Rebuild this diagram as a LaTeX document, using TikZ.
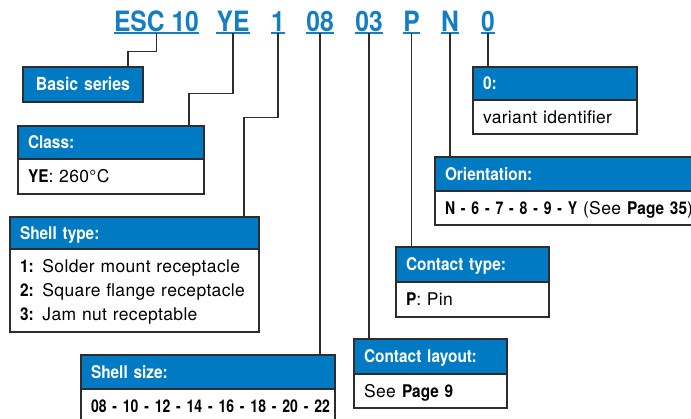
\documentclass[tikz,border=0pt]{standalone}
\usepackage{fontspec}
\setmainfont{TeX Gyre Heros}[UprightFeatures={LetterSpace=2}, BoldFeatures={FakeStretch=0.88}]
\newfontfamily\numbf{TeX Gyre Heros}[FakeStretch=0.8]
\usetikzlibrary{positioning}

\definecolor{hdrblue}{RGB}{0,122,194}
\definecolor{codeblue}{RGB}{20,125,196}
\definecolor{edgegray}{RGB}{45,45,45}

\begin{document}
\begin{tikzpicture}[
    x=1pt, y=-1pt,
    code/.style={font=\fontsize{28}{30}\selectfont\bfseries, text=codeblue, inner xsep=0pt, inner ysep=2pt, text depth=0pt, anchor=base},
    uline/.style={draw=codeblue, line width=1.8pt},
    conn/.style={draw=edgegray, line width=1.4pt},
    hdr/.style={draw=edgegray, line width=1.2pt, fill=hdrblue, text=white, font=\fontsize{17.5}{20}\selectfont\bfseries, align=left, inner xsep=10pt, inner ysep=0pt, text height=12.5pt, text depth=0pt, anchor=north west, outer sep=0pt},
    bodybox/.style={draw=edgegray, line width=1.2pt, fill=white, font=\fontsize{17.5}{24}\selectfont, align=left, inner xsep=10pt, inner ysep=0pt, text height=12.5pt, text depth=0pt, anchor=north west, outer sep=0pt}
]
\useasboundingbox (0,0) rectangle (691,418);

% Part number
\node[code] (esc) at (156.5,31) {ESC 10};
\node[code] (ye) at (233,31) {YE};
\node[code] (one) at (278,31) {1};
\node[code] (c08) at (320,31) {08};
\node[code] (c03) at (369,31) {03};
\node[code] (cp) at (411.5,31) {P};
\node[code] (cn) at (450,31) {N};
\node[code] (czero) at (488,31) {0};
\foreach \n in {esc,ye,one,c08,c03,cp,cn,czero}
    \draw[uline] (\n.south west) -- (\n.south east);

% Basic series
\node[hdr, align=center, text width=100pt, minimum height=35pt, font=\fontsize{18}{20}\selectfont\bfseries] (basic) at (23,67) {Basic series};

% Class
\node[hdr, text width=166pt, minimum height=33pt] (class) at (18,126) {Class:};
\node[bodybox, text width=166pt, minimum height=35pt] (classb) at (class.south west) {\textbf{YE}: 260°C};

% Shell type
\node[hdr, text width=229pt, minimum height=32pt] (stype) at (10,217) {Shell type:};
\node[bodybox, text width=229pt, minimum height=83pt, text depth=48pt] (stypeb) at (stype.south west) {\textbf{1:} Solder mount receptacle\\\textbf{2:} Square flange receptacle\\\textbf{3:} Jam nut receptable};

% Shell size
\node[hdr, text width=234pt, minimum height=34pt] (ssize) at (81,355) {Shell size:};
\node[bodybox, text width=234pt, minimum height=35pt] (ssizeb) at (ssize.south west) {\mbox{\numbf\bfseries 08 - 10 - 12 - 14 - 16 - 18 - 20 - 22}};

% Contact layout
\node[hdr, text width=133pt, minimum height=35pt] (layout) at (354,339) {Contact layout:};
\node[bodybox, text width=133pt, minimum height=34pt] (layoutb) at (layout.south west) {See \textbf{Page 9}};

% Contact type
\node[hdr, text width=133pt, minimum height=35pt] (ctype) at (396,247) {Contact type:};
\node[bodybox, text width=133pt, minimum height=35pt] (ctypeb) at (ctype.south west) {\textbf{P}: Pin};

% Orientation
\node[hdr, text width=270pt, minimum height=34pt] (orient) at (435,157) {Orientation:};
\node[bodybox, text width=270pt, minimum height=34pt] (orientb) at (orient.south west) {\mbox{{\numbf\bfseries N - 6 - 7 - 8 - 9 - Y} (See \textbf{Page 35})}};

% Variant
\node[hdr, text width=144pt, minimum height=33pt] (variant) at (473,67) {0:};
\node[bodybox, text width=144pt, minimum height=34pt] (variantb) at (variant.south west) {variant identifier};

% Connectors
\draw[conn] (esc.south) -- ++(0,18) -| ([xshift=105pt]basic.north west);
\draw[conn] (ye.south) -- ++(0,60) -| ([xshift=171pt]class.north west);
\draw[conn] (one.south) -- ++(0,84) -| ([xshift=234pt]stype.north west);
\draw[conn] (c08.south) -- (c08.south |- ssize.north);
\draw[conn] (c03.south) -- (c03.south |- layout.north);
\draw[conn] (cp.south) -- (cp.south |- ctype.north);
\draw[conn] (cn.south) -- (cn.south |- orient.north);
\draw[conn] (czero.south) -- (czero.south |- variant.north);

\end{tikzpicture}
\end{document}
